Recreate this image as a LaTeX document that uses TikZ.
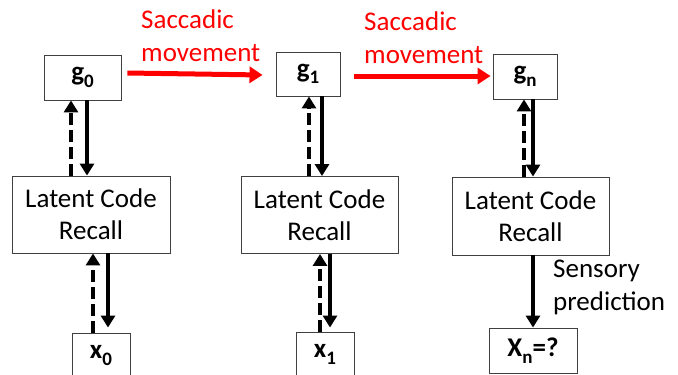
\documentclass[tikz,border=0pt]{standalone}
\usepackage{fontspec}
\setmainfont{Carlito}
\usepackage{tikz}
\usetikzlibrary{arrows.meta,positioning}

\newcommand{\idx}[1]{\raisebox{-0.5ex}{\fontsize{19}{19}\selectfont #1}}

\begin{document}
\begin{tikzpicture}
			[x=1pt, y=-1pt,
			 box/.style={draw=black!75, line width=0.9pt, inner sep=0pt, font=\fontsize{27}{32}\selectfont},
			 fwd/.style={line width=4pt, -{Triangle[width=14pt,length=12pt]}},
			 back/.style={fwd, dash pattern=on 12pt off 5pt},
			 sacc/.style={red, line width=5pt, -{Triangle[width=16pt,length=13pt]}},
			 note/.style={align=left, anchor=west, inner sep=0pt, font=\fontsize{27}{33}\selectfont}]
			\useasboundingbox (0,0) rectangle (678,375);
          	% location codes
          	\node[box, minimum width=77pt, minimum height=45pt] (g0) at (82.5, 77.5) {\textbf{g\idx{0}}};
          	\node[box, minimum width=64pt, minimum height=44pt] (g1) at (308, 74) {\textbf{g\idx{1}}};
          	\node[box, minimum width=64pt, minimum height=45pt] (gn) at (525, 76.5) {\textbf{g\idx{n}}};
          	% recall blocks
          	\node[box, minimum width=158pt, minimum height=77pt, align=center] (L0) at (91, 214.5) {Latent Code\\Recall};
          	\node[box, minimum width=157pt, minimum height=77pt, align=center] (L1) at (319.5, 215) {Latent Code\\Recall};
          	\node[box, minimum width=157pt, minimum height=78pt, align=center] (Ln) at (530.5, 216) {Latent Code\\Recall};
          	% sensory inputs
          	\node[box, minimum width=58pt, minimum height=45pt] (x0) at (101, 355.5) {\textbf{x\idx{0}}};
          	\node[box, minimum width=58pt, minimum height=45pt] (x1) at (325, 354.5) {\textbf{x\idx{1}}};
          	\node[box, minimum width=88pt, minimum height=45pt] (xn) at (533, 350.5) {\textbf{X\idx{n}=?}};
          	
          	\node[note, red] (s0) at (141, 36) {Saccadic\\movement};
          	\node[note, red] (s1) at (364, 38) {Saccadic\\movement};
          	\node[note] (sp) at (553, 287) {Sensory\\prediction};
           
            \draw[sacc] ([xshift=6pt,yshift=4.5pt]g0.east) -- ([xshift=-13pt,yshift=-1pt]g1.west);
            \draw[sacc] ([xshift=14pt,yshift=-2pt]g1.east) -- ([xshift=-2pt,yshift=0.5pt]gn.west);
            
            \draw[back] ([xshift=-20pt]L0.north) -- ([xshift=-11.5pt]g0.south);
            \draw[fwd] ([xshift=4.5pt]g0.south) -- ([xshift=-4pt]L0.north);
            \draw[back] ([xshift=-10.5pt]L1.north) -- ([xshift=1pt]g1.south);
            \draw[fwd] ([xshift=14pt]g1.south) -- ([xshift=2.5pt]L1.north);
            \draw[back] ([xshift=-6.5pt]Ln.north) -- ([xshift=-1pt]gn.south);
            \draw[fwd] ([xshift=8pt]gn.south) -- ([xshift=2.5pt]Ln.north);
            
            \draw[back] ([xshift=-8pt]x0.north) -- ([xshift=2pt]L0.south);
            \draw[fwd, shorten >=5pt] ([xshift=17pt]L0.south) -- ([xshift=7pt]x0.north);
            \draw[back] ([xshift=-5pt]x1.north) -- ([xshift=0.5pt]L1.south);
            \draw[fwd, shorten >=4pt] ([xshift=10.5pt]L1.south) -- ([xshift=5pt]x1.north);
            \draw[fwd] ([xshift=2.5pt]Ln.south) -- (xn.north);
			\end{tikzpicture}
\end{document}
